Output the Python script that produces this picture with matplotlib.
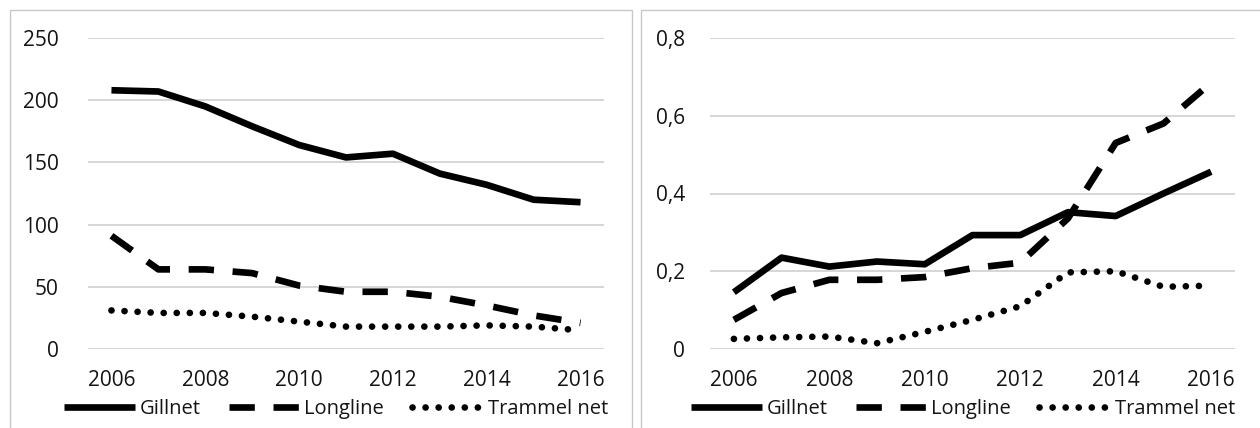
import matplotlib
matplotlib.use("Agg")
import matplotlib.pyplot as plt
from matplotlib.patches import Rectangle

years = [2006, 2007, 2008, 2009, 2010, 2011, 2012, 2013, 2014, 2015, 2016]
xticks = [2006, 2008, 2010, 2012, 2014, 2016]

left_gillnet = [208, 207, 195, 179, 164, 154, 157, 141, 132, 120, 118]
left_longline = [91, 64, 64, 61, 51, 46, 46, 42, 35, 27, 21]
left_trammel = [31, 29, 29, 26, 22, 18, 18, 18, 19, 18, 15]
left_yticks = [0, 50, 100, 150, 200, 250]
left_ylabels = ["0", "50", "100", "150", "200", "250"]

right_gillnet = [0.146, 0.235, 0.212, 0.225, 0.218, 0.293, 0.293, 0.352, 0.342, 0.400, 0.456]
right_longline = [0.075, 0.144, 0.178, 0.178, 0.185, 0.208, 0.222, 0.336, 0.530, 0.580, 0.685]
right_trammel = [0.026, 0.030, 0.032, 0.015, 0.044, 0.075, 0.110, 0.197, 0.200, 0.160, 0.163]
right_yticks = [0, 0.2, 0.4, 0.6, 0.8]
right_ylabels = ["0", "0,2", "0,4", "0,6", "0,8"]

series_names = ["Gillnet", "Longline", "Trammel net"]

plt.rcParams['font.family'] = ['Open Sans', 'DejaVu Sans']
W, H = 1260, 428
fig = plt.figure(figsize=(W / 100, H / 100), dpi=100)
fig.patch.set_facecolor('white')

txt_color = '#141414'
grid_color = '#cfcfcf'
FS = 15
LFS = 14.5
LW = 4.8

styles = [
    dict(linestyle='-', solid_capstyle='butt'),
    dict(linestyle=(0, (3.8, 2.8)), dash_capstyle='butt'),
    dict(linestyle=(0, (0.01, 1.95)), dash_capstyle='round'),
]

# panel borders
fig.patches.append(Rectangle((10 / W, -0.05), (632 - 10) / W, 1 - 9.5 / H + 0.05,
                             transform=fig.transFigure, fill=False,
                             edgecolor='#c8c8c8', linewidth=1.0))
fig.patches.append(Rectangle((641 / W, -0.05), 0.6, 1 - 9.5 / H + 0.05,
                             transform=fig.transFigure, fill=False,
                             edgecolor='#c8c8c8', linewidth=1.0))


def make_panel(x0, x1, data, yticks, ylabels, ylim, ypad, leg_center):
    y0px, y1px = 349, 38
    ax = fig.add_axes([x0 / W, 1 - y0px / H, (x1 - x0) / W, (y0px - y1px) / H])
    ax.set_facecolor('none')
    for s in ax.spines.values():
        s.set_visible(False)
    ax.set_xlim(2005.5, 2016.5)
    ax.set_ylim(*ylim)
    ax.set_yticks(yticks)
    ax.set_yticklabels(ylabels)
    ax.set_xticks(xticks)
    ax.set_xticklabels([str(t) for t in xticks])
    ax.tick_params(axis='both', length=0, labelsize=FS, colors=txt_color)
    ax.tick_params(axis='y', pad=ypad)
    ax.tick_params(axis='x', pad=15)
    ax.grid(axis='y', color=grid_color, linewidth=1.2)
    ax.set_axisbelow(True)
    handles = []
    for vals, st, name in zip(data, styles, series_names):
        ln, = ax.plot(years, vals, color='black', linewidth=LW,
                      solid_joinstyle='round', label=name, **st)
        handles.append(ln)
    fig.legend(handles=handles, loc='center',
               bbox_to_anchor=(leg_center / W, 1 - 409 / H),
               ncol=3, frameon=False, fontsize=LFS, handlelength=3.5,
               handletextpad=0.25, columnspacing=1.4, labelcolor=txt_color,
               borderpad=0, borderaxespad=0)
    return ax


make_panel(88, 604, [left_gillnet, left_longline, left_trammel],
           left_yticks, left_ylabels, (0, 250), 21, 336)
make_panel(710, 1235, [right_gillnet, right_longline, right_trammel],
           right_yticks, right_ylabels, (0, 0.8), 18, 963)

fig.savefig('out.png', dpi=100, facecolor='white')
